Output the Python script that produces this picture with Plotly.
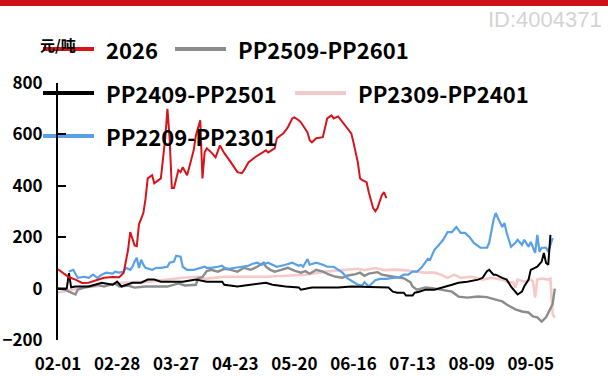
import pandas as pd
import plotly.graph_objects as go

# ---------------- data (day offsets from 02-01, spread values in 元/吨) ----------------
BASE_DATE = "2025-02-01"

red_name = "2026"
red_day = [0, 2, 5, 8, 11, 14, 18, 21, 25, 28, 30, 31, 32, 33, 35, 36, 37, 39, 40, 41, 43, 44, 47, 48, 49, 50,
           51, 52, 53, 55, 56, 57, 59, 62, 63, 65, 66, 67, 68, 70, 72, 74, 76, 79, 82, 84, 85, 87, 90, 95, 96,
           99, 100, 103, 105, 107, 108, 110, 111, 114, 115, 116, 118, 121, 122, 123, 125, 126, 128, 130, 132,
           134, 135, 137, 138, 139, 141, 142, 144, 145, 146, 148, 149, 150]
red_val = [75, 62, 44, 35, 22, 23, 33, 42, 45, 44, 62, 105, 150, 220, 168, 165, 250, 294, 350, 429, 441, 410,
           429, 507, 585, 700, 585, 391, 391, 461, 453, 472, 441, 538, 596, 655, 429, 530, 546, 530, 511, 557,
           527, 491, 453, 449, 461, 491, 511, 538, 530, 546, 585, 604, 627, 662, 666, 655, 647, 608, 577, 569,
           585, 589, 627, 662, 674, 662, 670, 647, 624, 604, 569, 491, 429, 422, 414, 375, 313, 301, 313, 364,
           375, 352]

gray_name = "PP2509-PP2601"
gray_day = [0, 3, 5, 7, 8, 9, 12, 17, 18, 21, 26, 28, 32, 35, 40, 44, 50, 55, 58, 63, 64, 66, 68, 70, 73, 76,
            79, 82, 85, 88, 91, 94, 95, 97, 99, 102, 105, 108, 111, 113, 115, 118, 121, 124, 127, 130, 132, 136,
            138, 140, 142, 146, 148, 152, 155, 158, 161, 162, 164, 168, 171, 175, 180, 183, 187, 192, 196, 200,
            203, 205, 209, 212, 215, 217, 219, 221, 223, 226, 227]
gray_val = [0, -4, -12, -20, -23, -4, 4, 12, 15, 8, 20, 8, 12, 4, 8, 8, 8, 20, 12, 15, 40, 45, 68, 73, 66, 77,
            73, 66, 81, 73, 85, 101, 85, 73, 66, 73, 81, 70, 62, 68, 58, 73, 66, 54, 46, 42, 50, 56, 62, 50, 58,
            64, 54, 48, 44, 40, 25, 8, -4, 4, 2, -4, -12, -31, -35, -31, -33, -43, -50, -62, -81, -89, -93, -108,
            -112, -128, -112, -60, 0]

black_name = "PP2409-PP2501"
black_day = [0, 4, 5, 6, 8, 14, 20, 25, 27, 29, 34, 38, 41, 44, 47, 52, 57, 63, 68, 75, 76, 82, 89, 95, 98,
             104, 110, 111, 116, 122, 128, 134, 145, 151, 153, 155, 158, 159, 162, 163, 165, 168, 172, 176, 180,
             183, 187, 192, 194, 196, 197, 199, 200, 203, 205, 207, 209, 210, 212, 213, 215, 216, 219, 221, 222,
             223, 224, 225]
black_val = [0, 0, 60, 5, 8, 8, 23, 15, 27, 8, 23, 23, 35, 35, 27, 27, 27, 35, 27, 27, 15, 8, 15, 23, 15, 8, 4,
             -4, 4, 4, 4, 8, 4, 4, -12, -16, -16, -27, -27, -16, -12, -4, -4, 4, 15, 23, 27, 35, 42, 68, 73, 54,
             54, 42, 35, 8, -16, -23, -12, 8, 35, 73, 85, 105, 139, 100, 93, 209]

pink_name = "PP2309-PP2401"
pink_day = [0, 4, 8, 12, 17, 24, 29, 35, 41, 50, 57, 64, 67, 76, 85, 95, 104, 113, 122, 131, 137, 140, 145,
            149, 154, 158, 163, 168, 172, 175, 178, 181, 184, 189, 194, 198, 203, 205, 208, 209, 210, 213, 216,
            217, 218, 219, 221, 224, 225, 226, 227]
pink_val = [-15, -8, 0, 5, 8, 15, 23, 25, 27, 35, 42, 46, 38, 46, 46, 46, 50, 54, 66, 73, 77, 72, 80, 72, 74,
            72, 66, 62, 62, 54, 42, 54, 42, 46, 35, 42, 35, 27, 23, 4, 35, 27, 35, 27, -35, 35, 39, 35, 39,
            -100, -112]

blue_name = "PP2209-PP2301"
blue_day = [5, 7, 9, 12, 14, 16, 18, 20, 22, 25, 26, 28, 30, 31, 33, 34, 35, 36, 37, 38, 39, 40, 43, 45, 47,
            50, 51, 53, 54, 56, 57, 59, 62, 65, 67, 68, 70, 73, 75, 76, 78, 81, 84, 87, 89, 91, 93, 96, 98,
            100, 104, 107, 110, 111, 112, 114, 115, 118, 121, 123, 126, 128, 130, 132, 135, 137, 139, 140,
            142, 145, 147, 150, 153, 156, 158, 160, 162, 164, 166, 168, 169, 170, 172, 174, 176, 178, 180,
            182, 184, 186, 188, 190, 193, 196, 197, 199, 200, 201, 203, 204, 205, 207, 209, 210, 212, 213,
            215, 216, 218, 219, 220, 221, 223, 224, 225, 226]
blue_val = [66, 73, 42, 46, 42, 54, 42, 54, 62, 58, 66, 62, 66, 81, 73, 85, 105, 120, 80, 112, 93, 81, 73, 81,
            81, 85, 101, 105, 128, 124, 85, 73, 73, 81, 85, 81, 81, 85, 89, 81, 77, 81, 85, 89, 97, 101, 93,
            101, 93, 85, 93, 101, 89, 93, 85, 115, 93, 101, 93, 85, 85, 73, 62, 42, 27, 15, 12, 25, 8, 33, 38,
            38, 42, 44, 54, 54, 66, 66, 81, 105, 116, 112, 151, 170, 190, 220, 220, 240, 217, 217, 201, 178,
            159, 159, 178, 267, 294, 275, 240, 255, 217, 163, 178, 190, 170, 190, 163, 182, 139, 209, 143, 159,
            159, 143, 170, 197]

tick_day = [0, 27, 54, 81, 108, 135, 162, 189, 216]
tick_text = ["02-01", "02-28", "03-27", "04-23", "05-20", "06-16", "07-13", "08-09", "09-05"]
x_end_day = 228
y_ticks = [-200, 0, 200, 400, 600, 800]
unit_text = "元/吨"
watermark = "ID:4004371"

# ---------------- figure ----------------
W, H = 608, 376
L, R, T, B = 58, 51, 83, 36
PW, PH = W - L - R, H - T - B

base = pd.Timestamp(BASE_DATE)


def to_dates(days):
    return base + pd.to_timedelta(days, unit="D")


def px(x):
    return (x - L) / PW


def py(y):
    return 1 - (y - T) / PH


CJK = "Noto Sans CJK SC"

series = [
    (pink_name, pink_day, pink_val, "#f6c9c9", 2.6),
    (gray_name, gray_day, gray_val, "#8c8c8c", 2.4),
    (blue_name, blue_day, blue_val, "#58a0e8", 2.2),
    (black_name, black_day, black_val, "#000000", 2.0),
    (red_name, red_day, red_val, "#d7141c", 2.0),
]

fig = go.Figure()
for name, d, v, c, w in series:
    fig.add_trace(go.Scatter(x=to_dates(d), y=v, name=name, mode="lines",
                             line=dict(color=c, width=w), showlegend=False))

x_range = [base, base + pd.Timedelta(days=x_end_day)]
tick_dates = list(to_dates(tick_day))

fig.update_layout(
    width=W, height=H,
    margin=dict(l=L, r=R, t=T, b=B, autoexpand=False),
    paper_bgcolor="white", plot_bgcolor="white",
    showlegend=False,
    font=dict(family=CJK, color="black"),
    xaxis=dict(range=x_range, showgrid=False, zeroline=False, showline=False, ticks="",
               tickvals=tick_dates, ticktext=tick_text, automargin=False,
               tickfont=dict(family=CJK, size=17, weight="bold"), ticklabelstandoff=12),
    xaxis2=dict(range=x_range, overlaying="x", anchor="free", position=0.2, showgrid=False,
                zeroline=False, showline=True, linecolor="black", linewidth=2, automargin=False,
                ticks="inside", ticklen=8, tickwidth=2, tickcolor="black",
                tickvals=tick_dates + [base + pd.Timedelta(days=x_end_day)], showticklabels=False),
    yaxis=dict(range=[-200, 800], showgrid=False, zeroline=False, showline=True, linecolor="black",
               linewidth=2, ticks="inside", ticklen=8, tickwidth=2, tickcolor="black", automargin=False,
               tickvals=y_ticks, tickfont=dict(family=CJK, size=17, weight="bold"), ticklabelstandoff=10),
)

shapes = [dict(type="rect", xref="paper", yref="paper", x0=px(0), x1=px(W), y0=py(6), y1=py(0),
               fillcolor="#cc1218", line=dict(width=0), layer="above")]
annotations = [
    dict(text=watermark, xref="paper", yref="paper", x=px(604), y=py(20), xanchor="right",
         yanchor="middle", showarrow=False, font=dict(family="Liberation Sans", size=22, color="#d4d4d4")),
    dict(text=unit_text, xref="paper", yref="paper", x=px(58), y=py(44), xanchor="center",
         yanchor="middle", showarrow=False, font=dict(family=CJK, size=15, color="black", weight="bold")),
]

# manual legend: (series name, colour, line start x, row y, text x)
legend_items = [
    (red_name, "#d7141c", 43, 49, 104),
    (gray_name, "#8c8c8c", 175, 49, 236),
    (black_name, "#000000", 43, 93, 104),
    (pink_name, "#f6c9c9", 295, 93, 356),
    (blue_name, "#58a0e8", 43, 136, 104),
]
for name, c, lx, ly, tx in legend_items:
    shapes.append(dict(type="line", xref="paper", yref="paper", x0=px(lx), x1=px(lx + 51),
                       y0=py(ly), y1=py(ly), line=dict(color=c, width=4), layer="below"))
    annotations.append(dict(text=name, xref="paper", yref="paper", x=px(tx), y=py(ly), xanchor="left",
                            yanchor="middle", showarrow=False,
                            font=dict(family=CJK, size=22, color="black", weight="bold")))

fig.update_layout(shapes=shapes, annotations=annotations)
fig.write_html("out.html", config={"displayModeBar": False},
               post_script="document.body.style.margin='0';document.body.style.overflow='hidden';")
